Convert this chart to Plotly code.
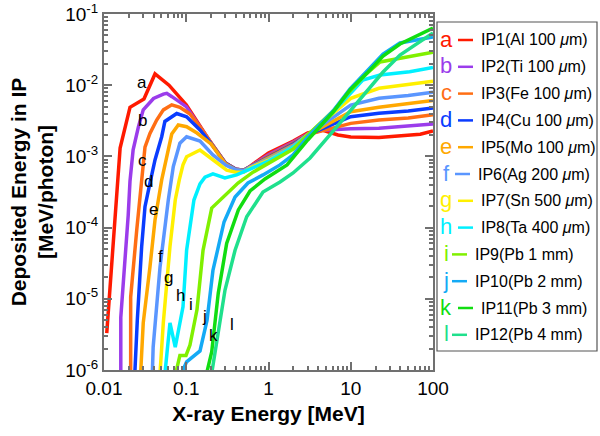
import numpy as np
import plotly.graph_objects as go

# ---------------- data ----------------
energy_a = [0.0108, 0.0143, 0.0157, 0.0207, 0.0306, 0.0417, 0.0617, 0.1, 0.15, 0.2, 0.3, 0.4, 0.5, 0.6, 1, 2, 3, 4.5, 7, 10, 22, 50, 70, 100]
dep_a = [3.3e-6, 2.4e-4, 1.31e-3, 4.9e-3, 6.4e-3, 1.44e-2, 1.0e-2, 5.3e-3, 2.5e-3, 1.54e-3, 8.1e-4, 6.6e-4, 6.4e-4, 7.3e-4, 1.12e-3, 1.64e-3, 2.13e-3, 2.35e-3, 2.0e-3, 1.87e-3, 1.85e-3, 1.97e-3, 2.05e-3, 2.27e-3]

energy_b = [0.016, 0.016, 0.0197, 0.0207, 0.0226, 0.0262, 0.030, 0.040, 0.0527, 0.058, 0.067, 0.1, 0.15, 0.2, 0.3, 0.4, 0.5, 0.6, 1, 2, 3, 4.5, 10, 22, 50, 100]
dep_b = [1e-7, 5.5e-6, 1.5e-4, 4.5e-4, 1.24e-3, 2.6e-3, 4.5e-3, 6.5e-3, 7.5e-3, 7.7e-3, 6.9e-3, 5.0e-3, 2.5e-3, 1.53e-3, 8.0e-4, 6.6e-4, 6.4e-4, 7.2e-4, 1.05e-3, 1.59e-3, 2.06e-3, 2.33e-3, 2.45e-3, 2.48e-3, 2.67e-3, 2.85e-3]

energy_c = [0.0211, 0.0211, 0.025, 0.0287, 0.0315, 0.0362, 0.0437, 0.0527, 0.0666, 0.0837, 0.111, 0.15, 0.2, 0.3, 0.4, 0.5, 0.6, 1, 2, 3, 10, 22, 50, 100]
dep_c = [1e-7, 1.06e-5, 9.2e-5, 4.2e-4, 1.35e-3, 2.1e-3, 3.24e-3, 4.5e-3, 5.3e-3, 4.9e-3, 3.95e-3, 2.5e-3, 1.53e-3, 8.0e-4, 6.6e-4, 6.4e-4, 7.2e-4, 1.01e-3, 1.54e-3, 2.03e-3, 2.91e-3, 3.24e-3, 3.46e-3, 3.85e-3]

energy_d = [0.0237, 0.0254, 0.0287, 0.0315, 0.0362, 0.0417, 0.0503, 0.055, 0.0766, 0.101, 0.147, 0.2, 0.3, 0.4, 0.5, 0.6, 1, 2, 3, 10, 22, 50, 100]
dep_d = [9e-7, 5.0e-6, 5.4e-5, 1.97e-4, 4.2e-4, 8.9e-4, 1.89e-3, 3.1e-3, 4.0e-3, 3.6e-3, 2.35e-3, 1.52e-3, 8.0e-4, 6.6e-4, 6.4e-4, 7.2e-4, 9.8e-4, 1.49e-3, 2.0e-3, 3.61e-3, 4.03e-3, 4.34e-3, 4.8e-3]

energy_e = [0.0279, 0.030, 0.0362, 0.0417, 0.0503, 0.0567, 0.0666, 0.08, 0.101, 0.135, 0.17, 0.2, 0.3, 0.4, 0.5, 0.6, 1, 2, 3, 10, 22, 50, 100]
dep_e = [9e-7, 4.6e-6, 2.8e-5, 1.28e-4, 4.67e-4, 8.9e-4, 2.06e-3, 2.76e-3, 2.61e-3, 2.13e-3, 1.75e-3, 1.5e-3, 7.9e-4, 6.5e-4, 6.35e-4, 7.1e-4, 9.5e-4, 1.44e-3, 2.0e-3, 4.25e-3, 4.89e-3, 5.44e-3, 6.1e-3]

energy_f = [0.0387, 0.0396, 0.048, 0.0578, 0.0605, 0.0696, 0.0837, 0.101, 0.147, 0.211, 0.3, 0.4, 0.5, 0.6, 1, 2, 3, 10, 22, 50, 100]
dep_f = [9e-7, 2.1e-6, 2.8e-5, 1.6e-4, 2.44e-4, 7.2e-4, 1.53e-3, 1.89e-3, 1.64e-3, 1.05e-3, 7.6e-4, 6.5e-4, 6.3e-4, 7.1e-4, 9.2e-4, 1.4e-3, 2.0e-3, 5.27e-3, 6.54e-3, 7.16e-3, 7.95e-3]

energy_g = [0.048, 0.0526, 0.0634, 0.0735, 0.0823, 0.0913, 0.101, 0.147, 0.213, 0.31, 0.4, 0.5, 0.6, 1, 2, 3, 10, 22, 50, 100]
dep_g = [9e-7, 4.6e-6, 5.4e-5, 2.44e-4, 4.67e-4, 7.6e-4, 9.9e-4, 1.23e-3, 8.9e-4, 6.4e-4, 6.0e-4, 6.0e-4, 6.9e-4, 8.9e-4, 1.35e-3, 2.0e-3, 6.54e-3, 9.04e-3, 1.01e-2, 1.14e-2]

energy_h = [0.0551, 0.0634, 0.0735, 0.0837, 0.0913, 0.101, 0.124, 0.147, 0.169, 0.211, 0.295, 0.41, 0.548, 1, 2, 3, 6.1, 10, 14, 22.7, 52, 100]
dep_h = [9e-7, 4.6e-6, 2.1e-6, 5.0e-6, 7.7e-6, 4.8e-5, 2.44e-4, 4.1e-4, 5.1e-4, 5.7e-4, 5.0e-4, 5.5e-4, 6.4e-4, 8.6e-4, 1.35e-3, 2.0e-3, 4.2e-3, 7.77e-3, 1.18e-2, 1.39e-2, 1.55e-2, 1.77e-2]

energy_i = [0.0745, 0.0837, 0.0993, 0.111, 0.135, 0.16, 0.204, 0.28, 0.426, 0.648, 0.958, 2, 3, 6.1, 9.8, 15.8, 22.7, 52, 100]
dep_i = [9e-7, 1.6e-6, 1.6e-6, 2.24e-6, 7.0e-6, 4.8e-5, 1.88e-4, 2.69e-4, 4.23e-4, 6.0e-4, 7.8e-4, 1.27e-3, 2.0e-3, 4.34e-3, 8.3e-3, 1.48e-2, 2.12e-2, 2.49e-2, 2.9e-2]

energy_j = [0.089, 0.101, 0.147, 0.179, 0.211, 0.288, 0.392, 0.563, 0.857, 1.38, 1.99, 3, 6.1, 9.8, 15.8, 24.7, 39.7, 100]
dep_j = [9.4e-7, 1.3e-6, 1.85e-6, 5.0e-6, 2.5e-5, 1.2e-4, 2.69e-4, 4.23e-4, 5.5e-4, 7.6e-4, 1.05e-3, 1.87e-3, 4.34e-3, 8.87e-3, 1.58e-2, 2.74e-2, 3.92e-2, 4.75e-2]

energy_k = [0.177, 0.204, 0.245, 0.31, 0.43, 0.596, 0.906, 1.68, 3, 6.1, 9.8, 15.8, 24.7, 39.7, 100]
dep_k = [9e-7, 1.8e-6, 1.2e-5, 6.0e-5, 1.77e-4, 3.27e-4, 4.82e-4, 7.6e-4, 1.7e-3, 4.2e-3, 8.6e-3, 1.48e-2, 2.57e-2, 3.79e-2, 6.36e-2]

energy_l = [0.204, 0.235, 0.296, 0.392, 0.543, 0.857, 1.38, 1.99, 3.2, 6.1, 9.8, 15.8, 24.7, 39.7, 100]
dep_l = [9e-7, 2.4e-6, 1.33e-5, 4.8e-5, 1.42e-4, 3.15e-4, 4.37e-4, 5.85e-4, 9.5e-4, 2.27e-3, 4.34e-3, 8.6e-3, 1.53e-2, 2.65e-2, 5.41e-2]

letters = ["a", "b", "c", "d", "e", "f", "g", "h", "i", "j", "k", "l"]
names = ["IP1(Al 100 <i>μ</i>m)", "IP2(Ti 100 <i>μ</i>m)", "IP3(Fe 100 <i>μ</i>m)",
         "IP4(Cu 100 <i>μ</i>m)", "IP5(Mo 100 <i>μ</i>m)", "IP6(Ag 200 <i>μ</i>m)",
         "IP7(Sn 500 <i>μ</i>m)", "IP8(Ta 400 <i>μ</i>m)", "IP9(Pb 1 mm)",
         "IP10(Pb 2 mm)", "IP11(Pb 3 mm)", "IP12(Pb 4 mm)"]
colors = ["#FF1A00", "#9B3CEB", "#FF6E14", "#0A3CFF", "#FFA800", "#5A96FF",
          "#FFF000", "#00F0FF", "#80F000", "#14AAF5", "#11DD11", "#1FE08C"]

# in-plot label positions (energy, deposit)
label_energy = [0.029, 0.0295, 0.0295, 0.0343, 0.0405, 0.048, 0.06, 0.0863, 0.114, 0.169, 0.217, 0.36]
label_dep = [1.1e-2, 3.2e-3, 8.9e-4, 4.5e-4, 1.8e-4, 3.9e-5, 1.96e-5, 1.1e-5, 8.2e-6, 5.7e-6, 3.1e-6, 4.3e-6]

x_ticks = [0.01, 0.1, 1, 10, 100]
x_ticktext = ["0.01", "0.1", "1", "10", "100"]
y_ticks = [1e-6, 1e-5, 1e-4, 1e-3, 1e-2, 1e-1]
y_ticktext = ["10<sup>-6</sup>", "10<sup>-5</sup>", "10<sup>-4</sup>", "10<sup>-3</sup>", "10<sup>-2</sup>", "10<sup>-1</sup>"]

energies = [energy_a, energy_b, energy_c, energy_d, energy_e, energy_f,
            energy_g, energy_h, energy_i, energy_j, energy_k, energy_l]
deposits = [dep_a, dep_b, dep_c, dep_d, dep_e, dep_f,
            dep_g, dep_h, dep_i, dep_j, dep_k, dep_l]

FONT = "Liberation Sans, Arial, sans-serif"
W, H = 600, 436
# plot area in window pixels: x 104-433, y 14-370
ML, MT = 104, 14
PW, PH = 329, 356
MR, MB = W - ML - PW, H - MT - PH

def px(xp):
    return (xp - ML) / PW

def py(yp):
    return (MT + PH - yp) / PH

fig = go.Figure()
for e, d, c, n in zip(energies, deposits, colors, names):
    fig.add_trace(go.Scatter(x=e, y=d, mode="lines", name=n,
                             line=dict(color=c, width=3.5), showlegend=False))

annotations = []
for lt, le, ld in zip(letters, label_energy, label_dep):
    annotations.append(dict(x=np.log10(le), y=np.log10(ld), xref="x", yref="y",
                            text=lt, showarrow=False,
                            font=dict(family=FONT, size=17, color="black")))

# custom legend: coloured letter, short line, text
shapes = [dict(type="rect", xref="paper", yref="paper",
               x0=px(437), x1=px(597), y0=py(351), y1=py(22),
               line=dict(color="#555555", width=1.2), fillcolor="white", layer="below")]
narrow = {"i": -6, "j": -6, "l": -6, "f": -3}
for k, (lt, n, c) in enumerate(zip(letters, names, colors)):
    yc = 39 + 26.8 * k
    off = narrow.get(lt, 0)
    annotations.append(dict(x=px(446), y=py(yc), xref="paper", yref="paper",
                            text=lt, showarrow=False, xanchor="center", yanchor="middle",
                            font=dict(family=FONT, size=22, color=c)))
    shapes.append(dict(type="line", xref="paper", yref="paper",
                       x0=px(458 + off), x1=px(473 + off), y0=py(yc + 1), y1=py(yc + 1),
                       line=dict(color=c, width=2.5)))
    annotations.append(dict(x=px(479 + off), y=py(yc + 1), xref="paper", yref="paper",
                            text=n, showarrow=False, xanchor="left", yanchor="middle",
                            font=dict(family=FONT, size=16, color="black")))

axis_common = dict(type="log", showgrid=False, zeroline=False, showline=True,
                   linecolor="#707070", linewidth=2, mirror="allticks",
                   ticks="inside", ticklen=8, tickwidth=1.5, tickcolor="#707070",
                   automargin=False, ticklabeloverflow="allow",
                   tickfont=dict(family=FONT, size=19, color="black"),
                   minor=dict(ticks="inside", ticklen=4, tickcolor="#707070", dtick="D1", showgrid=False))

fig.update_layout(
    width=W, height=H,
    margin=dict(l=ML, r=MR, t=MT, b=MB),
    paper_bgcolor="white", plot_bgcolor="white",
    xaxis=dict(range=[-2, 2], tickvals=x_ticks, ticktext=x_ticktext,
               title=dict(text="<b>X-ray Energy [MeV]</b>", standoff=9,
                          font=dict(family=FONT, size=21, color="black")),
               **axis_common),
    yaxis=dict(range=[-6, -1], tickvals=y_ticks, ticktext=y_ticktext,
               title=dict(text="<b>Deposited Energy in IP<br>[MeV/photon]</b>", standoff=6,
                          font=dict(family=FONT, size=21, color="black")),
               **axis_common),
    annotations=annotations, shapes=shapes,
)

fig.write_html("out.html", config={"displayModeBar": False},
               post_script="document.body.style.margin='0';document.body.style.overflow='hidden';")
